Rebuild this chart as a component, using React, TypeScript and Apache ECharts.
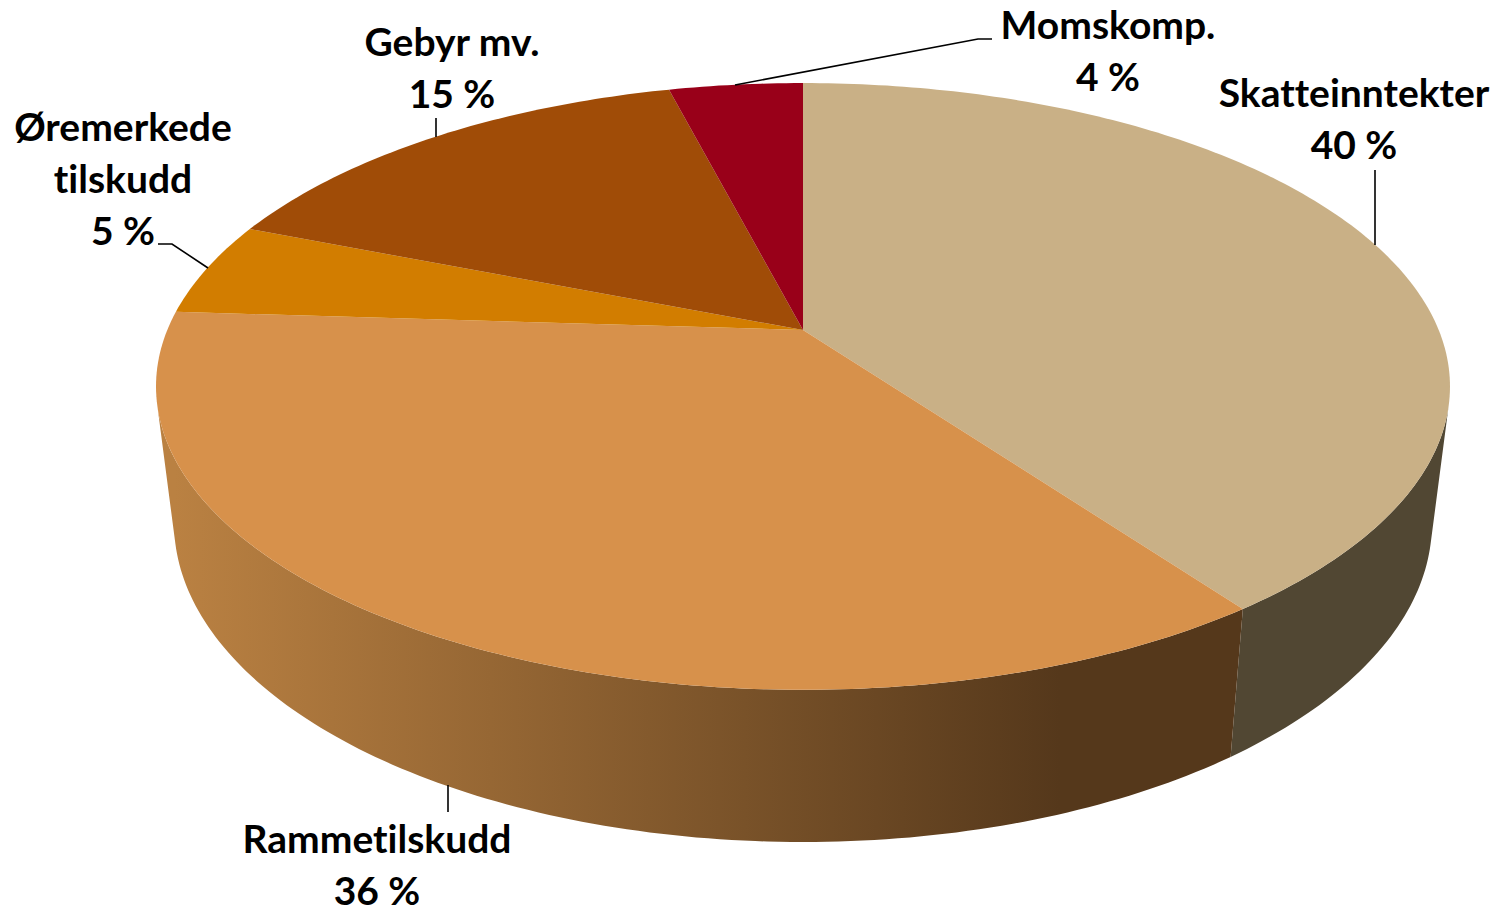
import React, { useEffect, useRef } from "react";
import * as echarts from "echarts";

const categories = ["Skatteinntekter", "Rammetilskudd", "Øremerkede tilskudd", "Gebyr mv.", "Momskomp."];
const values = [40, 36, 5, 15, 4];
const labelLines = [
  ["Skatteinntekter", "40 %"],
  ["Rammetilskudd", "36 %"],
  ["Øremerkede", "tilskudd", "5 %"],
  ["Gebyr mv.", "15 %"],
  ["Momskomp.", "4 %"],
];

const topColors = ["#C9B086", "#D7914B", "#D27D00", "#A04C07", "#990019"];
const sideColors = ["#514733", null, "#7E4A00", "#603004", "#5C000F"];

const labelCentres = [
  [1354, 118],
  [377, 864],
  [123, 178],
  [452, 67],
  [1108, 50],
];
const LINE_STEP = 52;
const leaders = [
  [[1375, 170], [1375, 245]],
  [[448, 785], [448, 812]],
  [[158, 244], [172, 244], [208, 268]],
  [[436, 118], [436, 137]],
  [[735, 85], [978, 39], [992, 39]],
];

const TOP_PLANE = { cx: 803, k: 635.7, a: -231.5, b: 330, c: 0.186 };
const LOW_PLANE = { cx: 803, k: 618, a: -222, b: 463.4, c: 0.186 };

const project = (p: typeof TOP_PLANE, t: number) => {
  const u = Math.sin(t);
  const v = Math.cos(t);
  const w = 1 + p.c * v;
  return [p.cx + (p.k * u) / w, (p.a * v + p.b) / w];
};

const total = values.reduce((s, v) => s + v, 0);
const spans = (() => {
  let c = 0;
  return values.map((v, i) => {
    const r = [c, c + v, i];
    c += v;
    return r;
  });
})();
const toAngle = (share: number) => (share / total) * Math.PI * 2;

const samples = (s: number, e: number) => {
  const n = Math.max(8, Math.ceil((e - s) * 4));
  const out: number[] = [];
  for (let i = 0; i <= n; i++) out.push(toAngle(s + ((e - s) * i) / n));
  return out;
};

// the rim is visible where its outward side faces the viewer
const faces = (t: number) => {
  const d = 0.002;
  const a0 = project(TOP_PLANE, t - d);
  const a1 = project(TOP_PLANE, t + d);
  const top = project(TOP_PLANE, t);
  const low = project(LOW_PLANE, t);
  const tx = a1[0] - a0[0];
  const ty = a1[1] - a0[1];
  const rx = low[0] - top[0];
  const ry = low[1] - top[1];
  return tx * ry - ty * rx < 0;
};

const renderSide = (_: any, api: any) => {
  const s = api.value(0);
  const e = api.value(1);
  const i = api.value(2);
  const ts = samples(s, e).filter(faces);
  if (ts.length < 2) return null;
  const pts = [...ts.map((t) => project(TOP_PLANE, t)), ...ts.slice().reverse().map((t) => project(LOW_PLANE, t))];
  const fill =
    sideColors[i] ||
    new echarts.graphic.LinearGradient(
      175,
      0,
      1060,
      0,
      [
        { offset: 0, color: "#BA8142" },
        { offset: 1, color: "#55381B" },
      ],
      true
    );
  return { type: "polygon", shape: { points: pts }, style: { fill } };
};

const renderTop = (_: any, api: any) => {
  const s = api.value(0);
  const e = api.value(1);
  const i = api.value(2);
  const apex = [TOP_PLANE.cx, TOP_PLANE.b];
  const pts = [apex, ...samples(s, e).map((t) => project(TOP_PLANE, t))];
  return { type: "polygon", shape: { points: pts }, style: { fill: topColors[i] } };
};

const renderLabel = (_: any, api: any) => {
  const i = api.value(2);
  const lines = labelLines[i];
  return {
    type: "group",
    children: [
      {
        type: "polyline",
        shape: { points: leaders[i] },
        style: { stroke: "#000000", lineWidth: 1.6, fill: "none" },
      },
      ...lines.map((text, j) => ({
        type: "text",
        x: labelCentres[i][0],
        y: labelCentres[i][1] + (j - (lines.length - 1) / 2) * LINE_STEP,
        style: {
          text,
          fill: "#000000",
          font: 'bold 39px Lato, "Noto Sans", sans-serif',
          lineHeight: 30,
          align: "center",
          verticalAlign: "middle",
        },
      })),
    ],
  };
};

export default function App() {
  const ref = useRef<HTMLDivElement>(null);
  useEffect(() => {
    document.body.style.margin = "0";
    const chart = echarts.init(ref.current!, null, { renderer: "svg" });
    const base = {
      type: "custom",
      coordinateSystem: "none",
      silent: true,
      clip: false,
      encode: { itemName: 3 },
      data: spans.map((r, i) => [r[0], r[1], r[2], categories[i]]),
    };
    chart.setOption({
      animation: false,
      backgroundColor: "#FFFFFF",
      series: [
        { ...base, name: "side", z: 1, renderItem: renderSide },
        { ...base, name: "top", z: 2, renderItem: renderTop },
        { ...base, name: "label", z: 3, renderItem: renderLabel },
      ],
    });
    return () => chart.dispose();
  }, []);
  return (
    <>
      <style>{"svg text { font-variant-ligatures: none !important; font-feature-settings: 'liga' 0, 'clig' 0 !important; }"}</style>
      <div ref={ref} style={{ width: 1498, height: 908 }} />
    </>
  );
}
